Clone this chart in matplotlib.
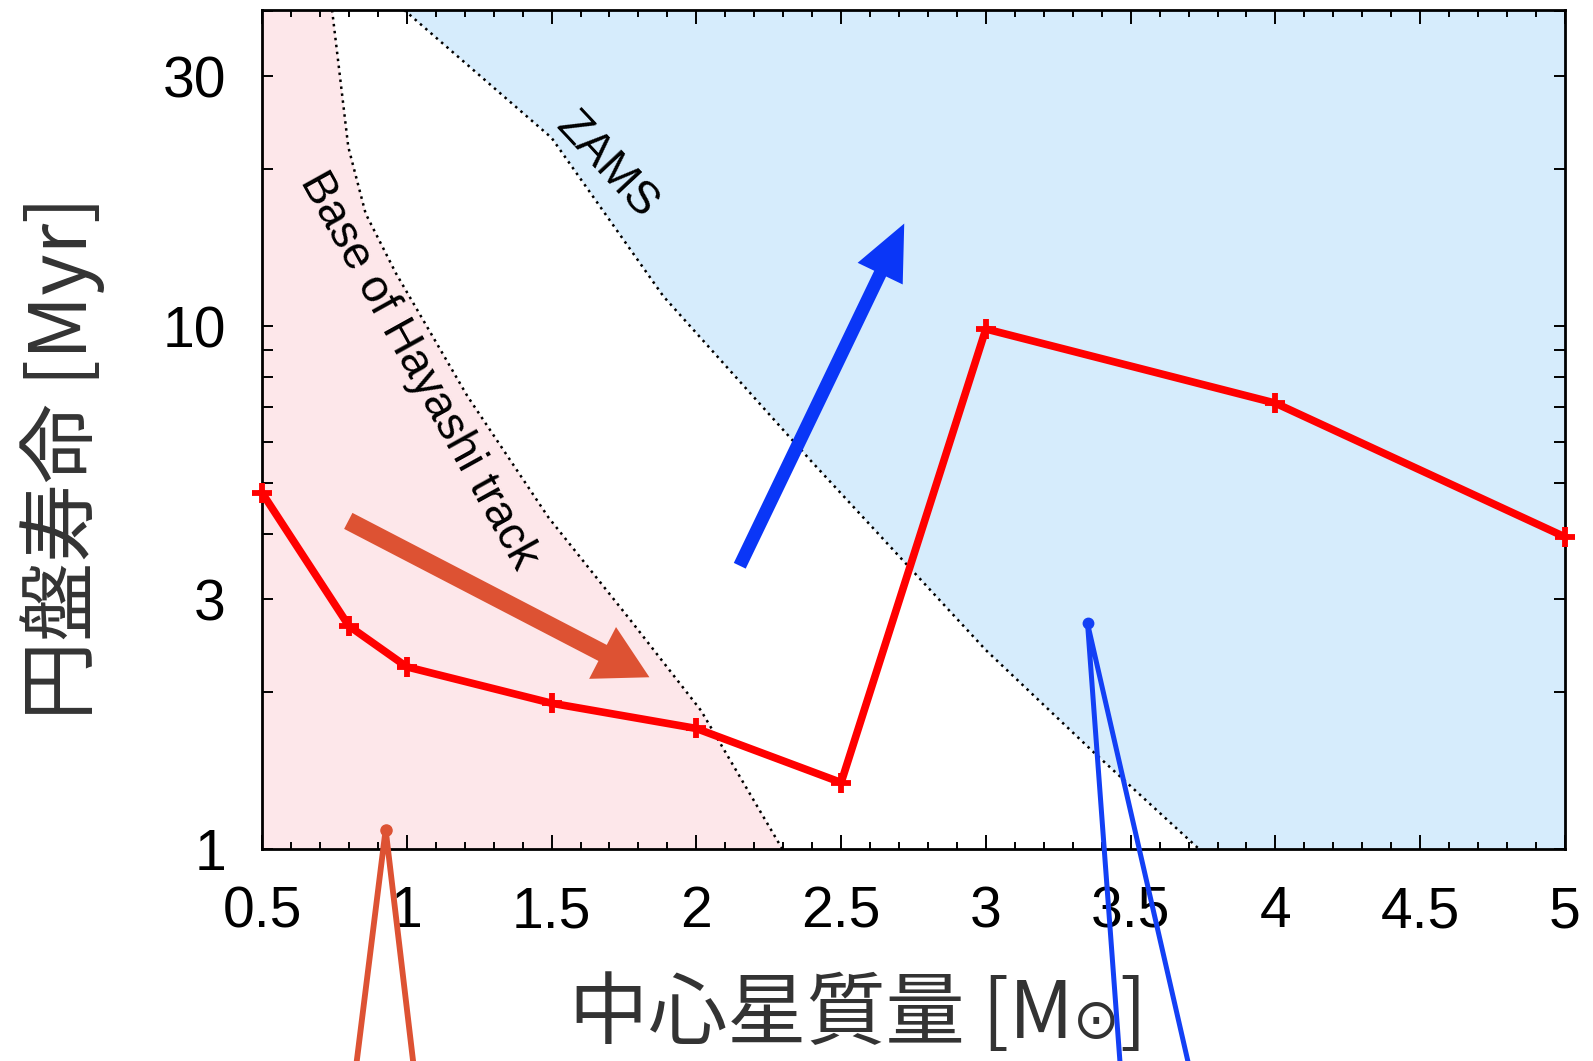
import matplotlib
matplotlib.use("Agg")
import matplotlib.pyplot as plt
import matplotlib.patches as mpatches
from matplotlib.ticker import FixedLocator, NullFormatter, FixedFormatter

# ---- data ----
mass = [0.5, 0.8, 1.0, 1.5, 2.0, 2.5, 3.0, 4.0, 5.0]
lifetime = [4.8, 2.67, 2.23, 1.90, 1.70, 1.34, 9.87, 7.12, 3.95]

hayashi_mass = [0.742, 0.763, 0.798, 0.858, 0.963, 1.209, 1.49, 1.77, 2.016, 2.297]
hayashi_age = [40.2, 32.1, 22.0, 16.4, 12.6, 7.35, 4.30, 2.75, 1.84, 1.0]

zams_mass = [0.991, 1.50, 1.886, 2.40, 3.0, 3.37, 3.736]
zams_age = [40.2, 22.9, 11.4, 5.49, 2.40, 1.535, 1.0]

xticks = [0.5, 1, 1.5, 2, 2.5, 3, 3.5, 4, 4.5, 5]
xticklabels = ["0.5", "1", "1.5", "2", "2.5", "3", "3.5", "4", "4.5", "5"]
yticks = [1, 3, 10, 30]
yticklabels = ["1", "3", "10", "30"]
yminor = [2, 4, 5, 6, 7, 8, 9, 20, 40]

# arrows (start, end) in data coordinates
orange_arrow = [(0.798, 4.24), (1.838, 2.13)]
blue_arrow = [(2.15, 3.48), (2.718, 15.7)]

# callout spikes (left-bottom, top, right-bottom) in data coords
orange_spike_m = [0.827, 0.927, 1.022]
orange_spike_a = [0.392, 1.089, 0.392]
blue_spike_m = [3.463, 3.351, 3.698]
blue_spike_a = [0.392, 2.70, 0.392]

W, H = 1593, 1061
fig = plt.figure(figsize=(W / 100, H / 100), dpi=100)
L, R, T, B = 262, 1565, 10, 849
ax = fig.add_axes([L / W, (H - B) / H, (R - L) / W, (B - T) / H])
ax.set_xlim(0.5, 5)
ax.set_yscale("log")
ax.set_ylim(1, 40.2)

PINK = "#fde7ea"
BLUE = "#d6ecfc"
ax.fill_betweenx(hayashi_age, 0.5, hayashi_mass, color=PINK, lw=0, zorder=0)
ax.fill_betweenx(zams_age, zams_mass, 5, color=BLUE, lw=0, zorder=0)
ax.plot(hayashi_mass, hayashi_age, color="black", ls=(0, (1.0, 1.8)), lw=1.8, zorder=2)
ax.plot(zams_mass, zams_age, color="black", ls=(0, (1.0, 1.8)), lw=1.8, zorder=2)

ax.plot(mass, lifetime, color="#ff0000", lw=5.5, marker="+", ms=15, mew=4.2, zorder=4, clip_on=False)

ax.add_patch(mpatches.FancyArrowPatch(orange_arrow[0], orange_arrow[1],
             arrowstyle=mpatches.ArrowStyle.Simple(head_length=38, head_width=42, tail_width=13),
             mutation_scale=1, color="#dd5233", shrinkA=0, shrinkB=0, lw=0, zorder=5))
ax.add_patch(mpatches.FancyArrowPatch(blue_arrow[0], blue_arrow[1],
             arrowstyle=mpatches.ArrowStyle.Simple(head_length=40, head_width=36, tail_width=9.5),
             mutation_scale=1, color="#0a36f7", shrinkA=0, shrinkB=0, lw=0, zorder=5))

ax.plot(orange_spike_m, orange_spike_a, color="#dd5233", lw=4.2, solid_joinstyle="round",
        solid_capstyle="round", clip_on=False, zorder=6)
ax.plot([orange_spike_m[1]], [orange_spike_a[1]], "o", color="#dd5233", ms=8, clip_on=False, zorder=6)
ax.plot(blue_spike_m, blue_spike_a, color="#1340f5", lw=3.6, solid_joinstyle="round",
        solid_capstyle="round", clip_on=False, zorder=6)
ax.plot([blue_spike_m[1]], [blue_spike_a[1]], "o", color="#1340f5", ms=7.5, clip_on=False, zorder=6)

ax.text(1.04, 8.2, "Base of Hayashi track", rotation=-61, rotation_mode="anchor",
        ha="center", va="center", fontsize=33, family="Liberation Sans", zorder=3)
ax.text(1.69, 20.3, "ZAMS", rotation=-47, rotation_mode="anchor",
        ha="center", va="center", fontsize=33, family="Liberation Sans", zorder=3)

# ticks
ax.xaxis.set_major_locator(FixedLocator(xticks))
ax.xaxis.set_major_formatter(FixedFormatter(xticklabels))
ax.xaxis.set_minor_locator(FixedLocator([0.5 + 0.1 * i for i in range(46)]))
ax.yaxis.set_major_locator(FixedLocator(yticks))
ax.yaxis.set_major_formatter(FixedFormatter(yticklabels))
ax.yaxis.set_minor_locator(FixedLocator(yminor))
ax.yaxis.set_minor_formatter(NullFormatter())
ax.tick_params(which="both", direction="in", top=True, right=True, width=1.4, color="black")
ax.tick_params(axis="x", which="major", length=10, pad=26)
ax.tick_params(axis="x", which="minor", length=5)
ax.tick_params(axis="y", which="both", length=8, pad=26)
for lab in ax.get_xticklabels() + ax.get_yticklabels():
    lab.set_family("Liberation Sans")
    lab.set_fontsize(41)
for s in ax.spines.values():
    s.set_linewidth(2)

# axis labels
cjk = ["Noto Sans CJK JP", "DejaVu Sans"]
GRAY = "#333333"
fig.text(0.039, 0.568, "円盤寿命 [Myr]", rotation=90, ha="center", va="center",
         fontsize=57, family=cjk, color=GRAY)
yb = 0.022
t1 = fig.text(0.357, yb, "中心星質量 [M", ha="left", va="baseline", fontsize=57, family=cjk, color=GRAY)
t2 = ax.annotate("⊙", xy=(1, yb), xycoords=(t1, "figure fraction"), ha="left", va="baseline",
                 fontsize=40, family=["DejaVu Sans"], color=GRAY, annotation_clip=False)
t3 = ax.annotate("]", xy=(1, yb), xycoords=(t2, "figure fraction"), ha="left", va="baseline",
                 fontsize=57, family=cjk, color=GRAY, annotation_clip=False)

fig.savefig("out.png", dpi=100)
